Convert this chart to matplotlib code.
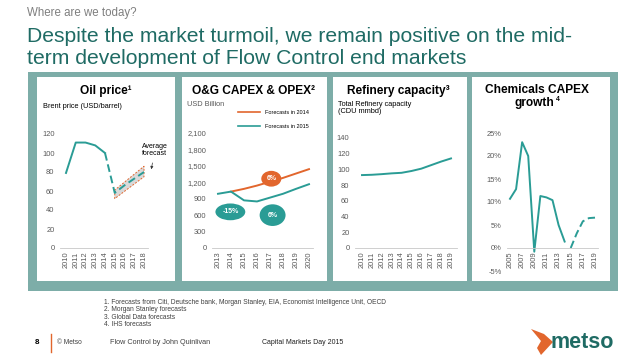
import matplotlib.pyplot as plt
from matplotlib.patches import Rectangle, Polygon
from matplotlib.lines import Line2D

plt.rcParams['font.family'] = ['Liberation Sans', 'DejaVu Sans']

W, H = 638, 359
TEAL = '#2a9c95'
ORANGE = '#e2662d'
FRAME = '#7dada8'
GREY = '#595959'
DARK = '#1f6b64'

# oil price (USD/barrel)
oil_years = [2010, 2011, 2012, 2013, 2014]
oil_price = [79, 111, 111, 108, 100]
oil_fc_years = [2014, 2015, 2016, 2017, 2018]
oil_fc_price = [100, 58, 66, 73, 80]
band_years = [2015, 2018]
band_low = [52, 75]
band_high = [61, 86]
oil_ticks = list(range(2010, 2019))

# O&G capex & opex (USD bn)
capex_years_14 = [2014, 2015, 2016, 2017, 2018, 2019, 2020]
capex_fc_2014 = [1030, 1080, 1140, 1210, 1280, 1360, 1440]
capex_years_15 = [2013, 2014, 2015, 2016, 2017, 2018, 2019, 2020]
capex_fc_2015 = [990, 1030, 870, 850, 920, 990, 1080, 1165]
capex_ticks = list(range(2013, 2021))

# refinery capacity (CDU mmbd)
ref_years = list(range(2010, 2020))
ref_capacity = [92.8, 93.2, 94, 95, 95.7, 98, 101, 105.5, 110, 114]

# chemicals capex growth (%)
chem_years = list(range(2005, 2015))
chem_growth = [10.7, 12.8, 23, 20, -0.8, 11.3, 11, 10.4, 5, 1.4]
chem_fc_years = [2015, 2016, 2017, 2018, 2019]
chem_fc_growth = [0, 3.2, 5.8, 6.5, 6.6]
chem_ticks = list(range(2005, 2020, 2))

fig = plt.figure(figsize=(W / 100, H / 100), dpi=100)
fig.patch.set_facecolor('white')

bg = fig.add_axes([0, 0, 1, 1])
bg.set_xlim(0, W)
bg.set_ylim(H, 0)
bg.axis('off')

# frame and white panels
bg.add_patch(Rectangle((28, 72), 590, 219, color=FRAME, lw=0))
for x0, x1 in [(37, 175), (182, 327), (333, 467), (472, 610)]:
    bg.add_patch(Rectangle((x0, 77), x1 - x0, 204, color='white', lw=0))

# headings
bg.text(27, 13, 'Where are we today?', fontsize=8.3, color='#7f7f7f', va='center')
bg.text(27, 36, 'Despite the market turmoil, we remain positive on the mid-',
        fontsize=15.2, color=DARK, va='center')
bg.text(27, 58, 'term development of Flow Control end markets',
        fontsize=15.2, color=DARK, va='center')

# panel titles
bg.text(106, 91, 'Oil price¹', fontsize=8.6, weight='bold', ha='center', va='center')
bg.text(254, 91, 'O&G CAPEX & OPEX²', fontsize=8.6, weight='bold', ha='center', va='center')
bg.text(398, 91, 'Refinery capacity³', fontsize=8.6, weight='bold', ha='center', va='center')
bg.text(537, 90, 'Chemicals CAPEX', fontsize=8.6, weight='bold', ha='center', va='center')
bg.text(534, 103, 'growth', fontsize=8.6, weight='bold', ha='center', va='center')
bg.text(556, 99.5, '4', fontsize=5, weight='bold', ha='left', va='center')

bg.text(43, 107, 'Brent price (USD/barrel)', fontsize=5.3, va='center')
bg.text(187, 104, 'USD Billion', fontsize=5.3, va='center', color=GREY)
bg.text(338, 108, 'Total Refinery capacity\n(CDU mmbd)', fontsize=5.3, va='center',
        linespacing=1.1)

# footnotes and footer
notes = ['1. Forecasts from Citi, Deutsche bank, Morgan Stanley, EIA, Economist Intelligence Unit, OECD',
         '2. Morgan Stanley forecasts',
         '3. Global Data forecasts',
         '4. IHS forecasts']
for i, n in enumerate(notes):
    bg.text(104, 302 + i * 7.6, n, fontsize=4.8, color='#404040', va='center')

bg.text(35, 343, '8', fontsize=5.8, weight='bold', va='center')
bg.plot([51, 51], [334, 352], color=ORANGE, lw=1)
bg.text(57, 343, '© Metso', fontsize=4.8, color='#404040', va='center')
bg.text(110, 343, 'Flow Control by John Quinlivan', fontsize=5.2, color='#404040', va='center')
bg.text(262, 343, 'Capital Markets Day 2015', fontsize=5.0, color='#202020', va='center')

bg.add_patch(Polygon([(531, 329), (544, 334), (553, 342), (541, 355), (537, 348), (541, 341)],
                     closed=True, color=ORANGE, lw=0))
bg.text(551, 342, 'metso', fontsize=15.5, weight='bold', color=DARK, va='center')


def add_chart(left, right, top, bottom, xa, xa_px, xb, xb_px, ya, ya_px, yb, yb_px):
    ax = fig.add_axes([left / W, 1 - bottom / H, (right - left) / W, (bottom - top) / H])
    sx = (xb_px - xa_px) / (xb - xa)
    ax.set_xlim(xa + (left - xa_px) / sx, xa + (right - xa_px) / sx)
    sy = (ya_px - yb_px) / (yb - ya)
    ax.set_ylim(ya - (bottom - ya_px) / sy, ya + (ya_px - top) / sy)
    ax.patch.set_visible(False)
    for s in ['top', 'right', 'left']:
        ax.spines[s].set_visible(False)
    ax.spines['bottom'].set_color('#c8c8c8')
    ax.spines['bottom'].set_linewidth(0.6)
    ax.tick_params(length=0, labelsize=5.4, colors=GREY)
    ax.tick_params(axis='x', rotation=90, pad=2.5)
    ax.tick_params(axis='y', pad=4)
    return ax


# panel 1
ax1 = add_chart(60, 148, 128, 248, 2010, 66, 2018, 144, 0, 248, 120, 134)
ax1.fill_between(band_years, band_low, band_high, facecolor='#d9d9d9',
                 edgecolor=ORANGE, linestyle=(0, (2, 1.5)), lw=0.7)
ax1.plot(oil_years, oil_price, color=TEAL, lw=1.4)
ax1.plot(oil_fc_years, oil_fc_price, color=TEAL, lw=1.4, ls=(0, (4, 2)))
ax1.set_xticks(oil_ticks)
ax1.set_yticks(range(0, 121, 20))
ax1.annotate('Average\nforecast', xy=(2018.7, 80), xytext=(2019.1, 103),
             fontsize=5, ha='center', va='center', linespacing=1.1,
             arrowprops=dict(arrowstyle='-|>', color='#333333', lw=0.5, mutation_scale=4),
             annotation_clip=False)

# panel 2
ax2 = add_chart(212, 313, 128, 248, 2013, 218, 2020, 309, 0, 248, 2100, 133)
ax2.plot(capex_years_14, capex_fc_2014, color=ORANGE, lw=1.4)
ax2.plot(capex_years_15, capex_fc_2015, color=TEAL, lw=1.4)
ax2.set_xticks(capex_ticks)
ax2.set_yticks(range(0, 2101, 300))
ax2.set_yticklabels([f'{v:,}' for v in range(0, 2101, 300)])
handles = [Line2D([], [], color=ORANGE, lw=1.2), Line2D([], [], color=TEAL, lw=1.2)]
ax2.legend(handles, ['Forecasts in 2014', 'Forecasts in 2015'], loc='upper left',
           bbox_to_anchor=(238 / W, 1 - 110 / H), bbox_transform=fig.transFigure,
           frameon=False, fontsize=4, handlelength=4, handletextpad=0.9,
           labelspacing=1.6, borderpad=0, borderaxespad=0)
ax2.text(2013.95, 660, '-15%', fontsize=5, color='white', ha='center', va='center',
         weight='bold', bbox=dict(boxstyle='ellipse,pad=0.35', fc=TEAL, ec='none'))
ax2.text(2017.1, 1265, '6%', fontsize=5, color='white', ha='center', va='center',
         weight='bold', bbox=dict(boxstyle='ellipse,pad=0.3', fc=ORANGE, ec='none'))
ax2.text(2017.2, 600, '6%', fontsize=5, color='white', ha='center', va='center',
         weight='bold', bbox=dict(boxstyle='ellipse,pad=0.6', fc=TEAL, ec='none'))

# panel 3
ax3 = add_chart(355, 457, 128, 248, 2010, 362, 2019, 451, 0, 248, 140, 138)
ax3.plot(ref_years, ref_capacity, color=TEAL, lw=1.4)
ax3.set_xticks(ref_years)
ax3.set_yticks(range(0, 141, 20))

# panel 4
ax4 = add_chart(507, 598, 128, 276, 2005, 510, 2019, 595, 0, 248, 25, 133)
ax4.spines['bottom'].set_position(('data', 0))
ax4.plot(chem_years, chem_growth, color=TEAL, lw=1.4)
ax4.plot(chem_fc_years, chem_fc_growth, color=TEAL, lw=1.4, ls=(0, (4, 2)))
ax4.set_xticks(chem_ticks)
ax4.set_yticks(range(-5, 26, 5))
ax4.set_yticklabels([f'{v}%' for v in range(-5, 26, 5)])

fig.savefig('out.png', dpi=100)
